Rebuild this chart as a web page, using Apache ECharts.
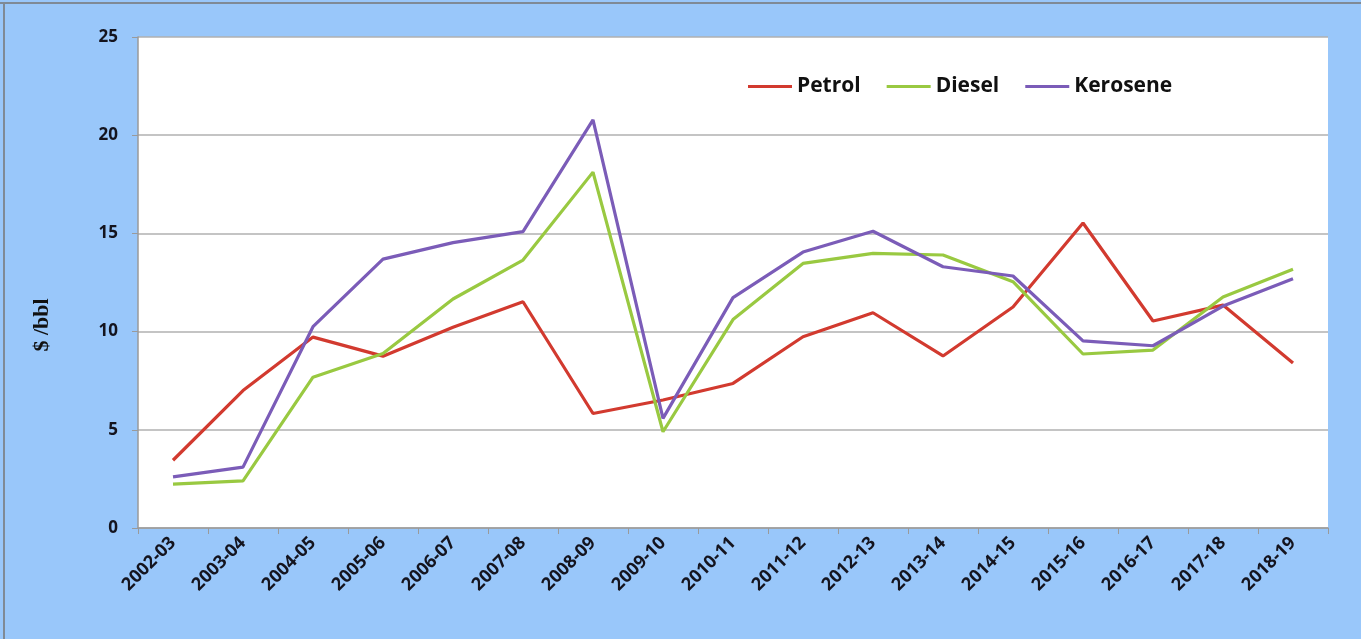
<!DOCTYPE html>
<html>
<head>
<meta charset="utf-8">
<script src="https://cdn.jsdelivr.net/npm/echarts@6/dist/echarts.min.js"></script>
<style>
html,body{margin:0;padding:0;background:#99C7FA;}
#chart{width:1361px;height:639px;}
</style>
</head>
<body>
<div id="chart"></div>
<script>
const categories = ['2002-03','2003-04','2004-05','2005-06','2006-07','2007-08','2008-09','2009-10','2010-11','2011-12','2012-13','2013-14','2014-15','2015-16','2016-17','2017-18','2018-19'];
const petrol   = [3.45, 7.0, 9.72, 8.75, 10.22, 11.52, 5.83, 6.52, 7.36, 9.74, 10.96, 8.76, 11.25, 15.53, 10.54, 11.35, 8.4];
const diesel   = [2.23, 2.4, 7.68, 8.88, 11.66, 13.64, 18.12, 4.9, 10.61, 13.47, 13.98, 13.9, 12.54, 8.86, 9.06, 11.76, 13.17];
const kerosene = [2.6, 3.1, 10.25, 13.69, 14.53, 15.09, 20.78, 5.58, 11.73, 14.05, 15.11, 13.3, 12.83, 9.53, 9.28, 11.3, 12.69];
const yTicks = [0, 5, 10, 15, 20, 25];
const yTitle = '$ /bbl';

const chart = echarts.init(document.getElementById('chart'), null, {renderer: 'canvas'});
const lbl = {fontFamily: 'Open Sans', fontWeight: 'bold', fontSize: 17, color: '#14141e'};
function mk(name, data, color) {
  return {name: name, type: 'line', data: data, symbol: 'none', smooth: false,
    lineStyle: {width: 3.2, color: color}, itemStyle: {color: color}};
}
chart.setOption({
  backgroundColor: '#99C7FA',
  animation: false,
  graphic: [
    {type: 'line', shape: {x1: 0, y1: 3, x2: 1361, y2: 3}, style: {stroke: '#7f8a96', lineWidth: 2}},
    {type: 'line', shape: {x1: 4, y1: 3, x2: 4, y2: 639}, style: {stroke: '#7f8a96', lineWidth: 2}},
    {type: 'text', x: 42, y: 325, rotation: Math.PI / 2,
      style: {text: yTitle, fontFamily: 'Liberation Serif', fontWeight: 'bold', fontSize: 22, fill: '#111',
        align: 'center', verticalAlign: 'middle'}}
  ],
  grid: {left: 138, right: 33, top: 37, bottom: 111, backgroundColor: '#ffffff', show: true, borderWidth: 0},
  legend: {
    left: 743, top: 71, itemWidth: 44, itemHeight: 3, itemGap: 26,
    icon: 'rect',
    textStyle: {fontFamily: 'Open Sans', fontWeight: 'bold', fontSize: 21, color: '#111'},
    data: ['Petrol', 'Diesel', 'Kerosene']
  },
  xAxis: {
    type: 'category', data: categories, boundaryGap: true,
    axisLine: {lineStyle: {color: '#9a9a9a', width: 1.5}},
    axisTick: {show: true, alignWithLabel: false, length: 6, lineStyle: {color: '#9a9a9a'}},
    axisLabel: Object.assign({rotate: 45, margin: 12, interval: 0}, lbl, {fontSize: 18})
  },
  yAxis: {
    type: 'value', min: 0, max: 25, interval: 5,
    axisLine: {show: true, lineStyle: {color: '#9a9a9a', width: 1.5}},
    axisTick: {show: true, length: 6, lineStyle: {color: '#9a9a9a'}},
    axisLabel: Object.assign({margin: 20, formatter: function (v) { return yTicks.indexOf(v) >= 0 ? String(v) : ''; }}, lbl),
    splitLine: {show: true, lineStyle: {color: '#b0b0b0', width: 1.5}}
  },
  series: [
    mk('Petrol', petrol, '#D23A2F'),
    mk('Diesel', diesel, '#99C941'),
    mk('Kerosene', kerosene, '#7B5CB8')
  ]
});
</script>
</body>
</html>
